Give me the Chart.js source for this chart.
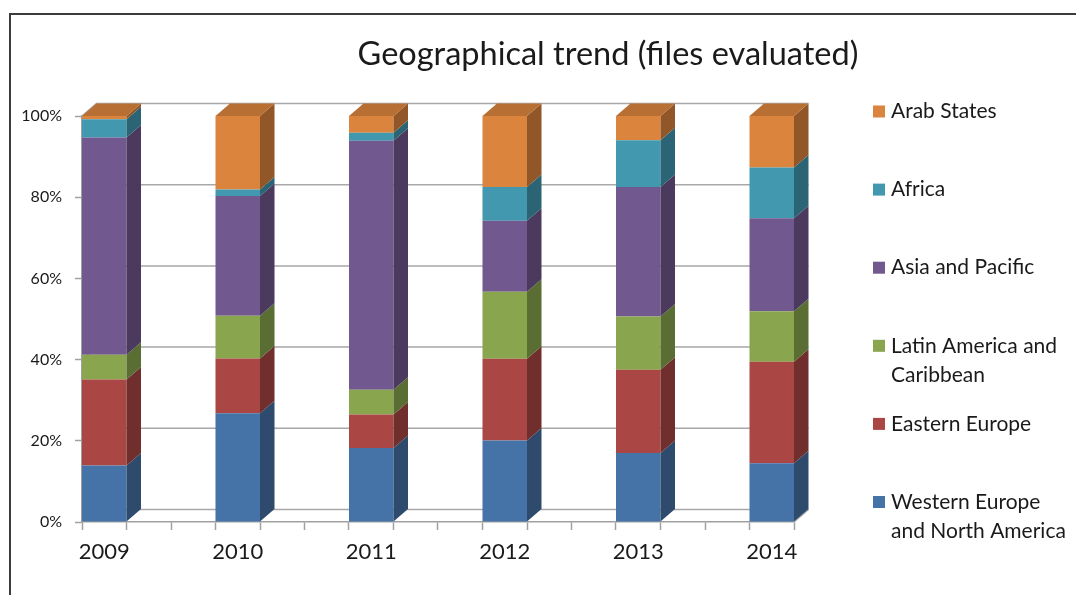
<!DOCTYPE html>
<html>
<head>
<meta charset="utf-8">
<script src="https://cdn.jsdelivr.net/npm/chart.js@4"></script>
<style>
  html, body { margin: 0; padding: 0; background: #fff; }
</style>
</head>
<body>
<canvas id="geoChart" width="1076" height="595"></canvas>
<script>
// values, % of files evaluated per year
const years = ['2009', '2010', '2011', '2012', '2013', '2014'];
const westernEurope = [13.9, 26.8, 18.2, 20.1, 17.0, 14.5];
const easternEurope = [21.2, 13.5, 8.3, 20.1, 20.5, 25.0];
const latinAmerica  = [6.1, 10.5, 6.1, 16.5, 13.1, 12.4];
const asiaPacific   = [53.5, 29.5, 61.3, 17.5, 31.9, 22.9];
const africa        = [4.5, 1.6, 2.0, 8.3, 11.5, 12.5];
const arabStates    = [0.8, 18.1, 4.1, 17.5, 6.0, 12.7];
const regionNames = [
  ['Western Europe', 'and North America'],
  ['Eastern Europe'],
  ['Latin America and', 'Caribbean'],
  ['Asia and Pacific'],
  ['Africa'],
  ['Arab States']
];
const yTicks = [0, 20, 40, 60, 80, 100];

const seriesValues = [westernEurope, easternEurope, latinAmerica, asiaPacific, africa, arabStates];
const colors = ['#4572a7', '#aa4643', '#89a54e', '#71588f', '#4198af', '#db843d'];

const FONT = 'Lato, "Open Sans", sans-serif';
const DX = 14.5, DY = 12.5;   // fake depth of the 3d columns

function shade(hex, f) {
  const n = parseInt(hex.slice(1), 16);
  const r = Math.round(((n >> 16) & 255) * f);
  const g = Math.round(((n >> 8) & 255) * f);
  const b = Math.round((n & 255) * f);
  return `rgb(${r},${g},${b})`;
}

const isWhole = v => Math.abs(v - Math.round(v)) < 1e-6;

const datasets = seriesValues.map((vals, i) => ({
  label: regionNames[i].join(' '),
  data: vals.map((v, j) => ({ x: j, y: v })),
  backgroundColor: colors[i],
  borderWidth: 0,
  categoryPercentage: 1,
  barPercentage: 2
}));

const depth3d = {
  id: 'depth3d',
  beforeDraw(chart) {
    const ctx = chart.ctx;
    ctx.save();
    ctx.fillStyle = '#fff';
    ctx.fillRect(0, 0, chart.width, chart.height);
    // outer frame (only top and left edges are inside the picture)
    ctx.strokeStyle = '#3c3c3c';
    ctx.lineWidth = 2;
    ctx.beginPath();
    ctx.moveTo(10, chart.height);
    ctx.lineTo(10, 14);
    ctx.lineTo(chart.width, 14);
    ctx.stroke();
    ctx.restore();
  },
  beforeDatasetsDraw(chart) {
    const { ctx, chartArea: a, scales: { y } } = chart;
    ctx.save();
    ctx.strokeStyle = '#a8a8a8';
    ctx.lineWidth = 1.5;
    yTicks.forEach(v => {
      const py = y.getPixelForValue(v);
      ctx.beginPath();
      ctx.moveTo(a.left, py);
      ctx.lineTo(a.left + DX, py - DY);
      ctx.lineTo(a.right + DX, py - DY);
      ctx.stroke();
    });
    const pb = y.getPixelForValue(0);
    ctx.beginPath();
    ctx.moveTo(a.right, pb);
    ctx.lineTo(a.right + DX, pb - DY);
    ctx.stroke();
    ctx.restore();
  },
  afterDatasetsDraw(chart) {
    const ctx = chart.ctx;
    const last = chart.data.datasets.length - 1;
    ctx.save();
    chart.data.datasets.forEach((ds, di) => {
      chart.getDatasetMeta(di).data.forEach(bar => {
        const { x, y, base, width } = bar.getProps(['x', 'y', 'base', 'width'], true);
        const x1 = x - width / 2, x2 = x + width / 2;
        ctx.fillStyle = shade(colors[di], 0.66);
        ctx.beginPath();
        ctx.moveTo(x2, y);
        ctx.lineTo(x2 + DX, y - DY);
        ctx.lineTo(x2 + DX, base - DY);
        ctx.lineTo(x2, base);
        ctx.closePath();
        ctx.fill();
        if (di === last) {
          ctx.fillStyle = shade(colors[di], 0.84);
          ctx.beginPath();
          ctx.moveTo(x1, y);
          ctx.lineTo(x1 + DX, y - DY);
          ctx.lineTo(x2 + DX, y - DY);
          ctx.lineTo(x2, y);
          ctx.closePath();
          ctx.fill();
        }
      });
    });
    ctx.restore();
  },
  afterDraw(chart) {
    const ctx = chart.ctx;
    ctx.save();
    // title
    ctx.fillStyle = '#1a1a1a';
    ctx.font = `32.5px ${FONT}`;
    ctx.textAlign = 'center';
    ctx.textBaseline = 'middle';
    ctx.fillText('Geographical trend (files evaluated)', 608, 55);
    // legend, top entry is the last series
    ctx.font = `21px ${FONT}`;
    ctx.textAlign = 'left';
    const n = regionNames.length;
    for (let k = 0; k < n; k++) {
      const i = n - 1 - k;
      const yy = 111.5 + k * 78.1;
      ctx.fillStyle = colors[i];
      ctx.fillRect(873, yy - 6, 12, 12);
      ctx.fillStyle = '#1a1a1a';
      regionNames[i].forEach((line, li) => ctx.fillText(line, 891, yy + li * 29.7));
    }
    ctx.restore();
  }
};

new Chart(document.getElementById('geoChart'), {
  type: 'bar',
  data: { datasets },
  options: {
    responsive: false,
    animation: false,
    layout: { padding: { top: 116, right: 1076 - 794, left: 0, bottom: 0 } },
    plugins: {
      legend: { display: false },
      title: { display: false },
      tooltip: { enabled: false }
    },
    scales: {
      x: {
        type: 'linear',
        stacked: true,
        offset: false,
        min: -1 / 6,
        max: 5 + 1 / 6,
        afterBuildTicks: s => {
          s.ticks = [];
          for (let k = 0; k <= 32; k++) s.ticks.push({ value: (k - 1) / 6 });
        },
        afterFit: s => {
          s.height = 73;
          s.paddingLeft = 0;
          s.paddingRight = 0;
        },
        ticks: {
          autoSkip: false,
          maxRotation: 0,
          padding: 9,
          color: '#1a1a1a',
          font: { family: FONT, size: 22 },
          callback: v => isWhole(v) ? years[Math.round(v)] : ''
        },
        grid: {
          offset: false,
          drawOnChartArea: false,
          tickLength: 8,
          tickColor: c => (c.index % 2 === 0 ? '#a0a0a0' : 'rgba(0,0,0,0)'),
          tickWidth: 1.5
        },
        border: { color: '#a0a0a0', width: 1.5 }
      },
      y: {
        stacked: true,
        min: 0,
        max: 100,
        afterBuildTicks: s => { s.ticks = yTicks.map(v => ({ value: v })); },
        afterFit: s => { s.width = 82; },
        ticks: {
          padding: 13,
          color: '#1a1a1a',
          font: { family: FONT, size: 16 },
          callback: v => v + '%'
        },
        grid: { drawOnChartArea: false, tickLength: 7, tickColor: '#a0a0a0', tickWidth: 1.5 },
        border: { color: '#a0a0a0', width: 1.5 }
      }
    }
  },
  plugins: [depth3d]
});
</script>
</body>
</html>
